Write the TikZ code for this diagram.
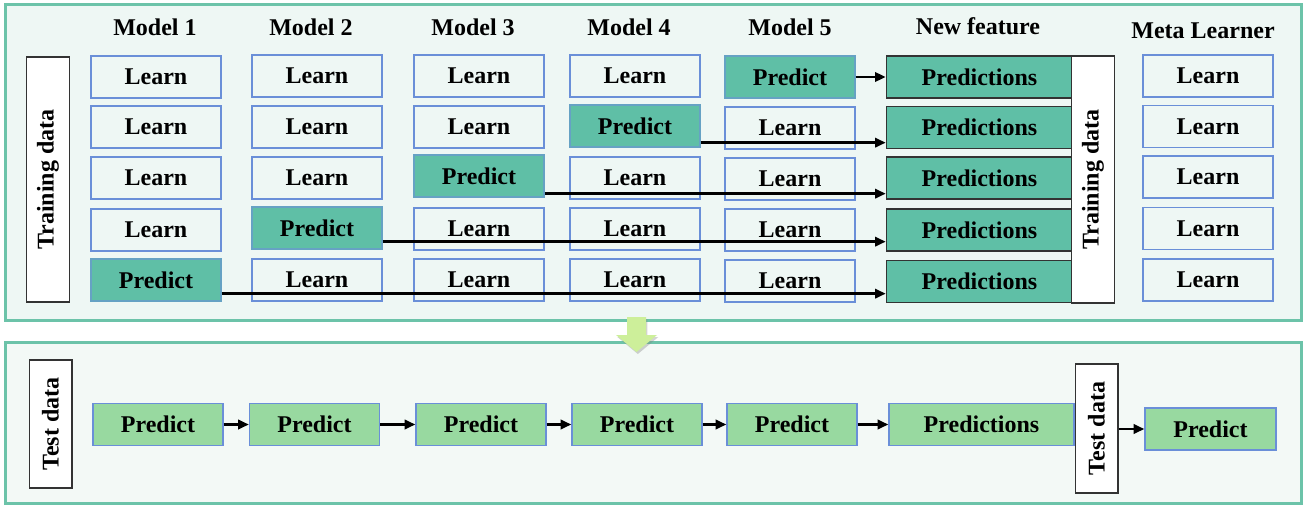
\documentclass[tikz,border=0pt]{standalone}
\usepackage{fontspec}
\setmainfont{Liberation Serif}
\usetikzlibrary{arrows.meta,calc,shadows}
\definecolor{panelline}{HTML}{6CC3A9}
\definecolor{panelfill}{HTML}{EEF7F4}
\definecolor{panelfilltwo}{HTML}{F3F9F6}
\definecolor{learnblue}{HTML}{6A8FD8}
\definecolor{tealfill}{HTML}{5FBFA6}
\definecolor{lightgreen}{HTML}{98D9A0}
\definecolor{arrowgreen}{HTML}{CDEF9A}

\begin{document}
\begin{tikzpicture}[x=0.75pt,y=0.75pt,>={Triangle[length=8pt,width=7pt]},
  font=\fontsize{18}{20}\selectfont\bfseries,
  box/.style={inner sep=0pt,minimum width=97.5pt,minimum height=31.5pt},
  learn/.style={box,draw=learnblue,line width=1pt},
  pred/.style={box,draw=learnblue!60!tealfill,fill=tealfill,line width=1pt},
  predn/.style={box,draw=black!80,fill=tealfill,line width=1.2pt,minimum width=139.5pt},
  testp/.style={box,draw=learnblue,fill=lightgreen,line width=1pt},
  datab/.style={draw=black!80,fill=white,line width=1pt,rotate=90,inner sep=0pt,minimum height=32pt},
  arr/.style={->,line width=1.8pt}]
  \useasboundingbox (0,0) rectangle (1306,-507);
  % panels
  \draw[panelline,line width=2.25pt,fill=panelfill] (5,-4) rectangle (1301,-320);
  \draw[panelline,line width=2.25pt,fill=panelfilltwo] (5,-342) rectangle (1301,-503);
  \fill[arrowgreen,drop shadow={opacity=0.35,shadow xshift=1pt,shadow yshift=-1.5pt}]
    (627,-317) -- (646,-317) -- (646,-335) -- (657,-335) -- (636.5,-352) -- (616,-335) -- (627,-335) -- cycle;

  % headers
  \node (h1) at (155,-27) {Model 1};
  \node (h2) at (311,-27) {Model 2};
  \node (h3) at (473,-27) {Model 3};
  \node (h4) at (629,-27) {Model 4};
  \node (h5) at (790,-27) {Model 5};
  \node (h6) at (978,-26) {New feature};
  \node (h7) at (1203,-31) {Meta Learner};

  % training part
  \node[datab,minimum width=183.75pt] (tdl) at (48,-179.5) {Training data};

  \node[learn] (l11) at (156,-77) {Learn};
  \node[learn] (l12) at (156,-127) {Learn};
  \node[learn] (l13) at (156,-178) {Learn};
  \node[learn] (l14) at (156,-230) {Learn};
  \node[pred]  (p1)  at (156,-280) {Predict};

  \node[learn] (l21) at (317,-76) {Learn};
  \node[learn] (l22) at (317,-127) {Learn};
  \node[learn] (l23) at (317,-178) {Learn};
  \node[pred]  (p2)  at (317,-228) {Predict};
  \node[learn] (l25) at (317,-280) {Learn};

  \node[learn] (l31) at (479,-76) {Learn};
  \node[learn] (l32) at (479,-127) {Learn};
  \node[pred]  (p3)  at (479,-176) {Predict};
  \node[learn] (l34) at (479,-229) {Learn};
  \node[learn] (l35) at (479,-280) {Learn};

  \node[learn] (l41) at (635,-76) {Learn};
  \node[pred]  (p4)  at (635,-126) {Predict};
  \node[learn] (l43) at (635,-178) {Learn};
  \node[learn] (l44) at (635,-229) {Learn};
  \node[learn] (l45) at (635,-280) {Learn};

  \node[pred]  (p5)  at (790,-77) {Predict};
  \node[learn] (l52) at (790,-128) {Learn};
  \node[learn] (l53) at (790,-179) {Learn};
  \node[learn] (l54) at (790,-230) {Learn};
  \node[learn] (l55) at (790,-281) {Learn};

  \node[predn] (n1) at (979.5,-77) {Predictions};
  \node[predn] (n2) at (979.5,-127.5) {Predictions};
  \node[predn] (n3) at (979.5,-178) {Predictions};
  \node[predn] (n4) at (979.5,-230) {Predictions};
  \node[predn] (n5) at (979.5,-281.5) {Predictions};
  \node[datab,minimum width=185.25pt] (tdr) at (1093,-179.5) {Training data};

  \node[learn] (m1) at (1208,-76) {Learn};
  \node[learn] (m2) at (1208,-126.5) {Learn};
  \node[learn] (m3) at (1208,-177) {Learn};
  \node[learn] (m4) at (1208,-228.5) {Learn};
  \node[learn] (m5) at (1208,-280) {Learn};

  \draw[arr] (p5) -- (n1);
  \draw[arr] ($(p4.south east)+(0,5)$) coordinate (a2) -- (a2 -| n2.west);
  \draw[arr] ($(p3.south east)+(0,4)$) coordinate (a3) -- (a3 -| n3.west);
  \draw[arr] ($(p2.south east)+(0,8)$) coordinate (a4) -- (a4 -| n4.west);
  \draw[arr] ($(p1.south east)+(0,8)$) coordinate (a5) -- (a5 -| n5.west);

  % test part
  \node[datab,minimum width=96pt] (tsl) at (50.5,-424) {Test data};
  \node[testp] (t1) at (158,-424.5) {Predict};
  \node[testp] (t2) at (314.5,-424.5) {Predict};
  \node[testp] (t3) at (481,-424.5) {Predict};
  \node[testp] (t4) at (637,-424.5) {Predict};
  \node[testp] (t5) at (792,-424.5) {Predict};
  \node[testp,minimum width=138.75pt] (t6) at (981.5,-424.5) {Predictions};
  \node[datab,minimum width=96.75pt] (tsr) at (1096.5,-428.5) {Test data};
  \node[testp,minimum width=98.25pt] (t7) at (1210.5,-429) {Predict};

  \draw[arr] (t1) -- (t2);
  \draw[arr] (t2) -- (t3);
  \draw[arr] (t3) -- (t4);
  \draw[arr] (t4) -- (t5);
  \draw[arr] (t5) -- (t6);
  \draw[arr] (tsr.south |- t7) -- (t7);
\end{tikzpicture}
\end{document}
